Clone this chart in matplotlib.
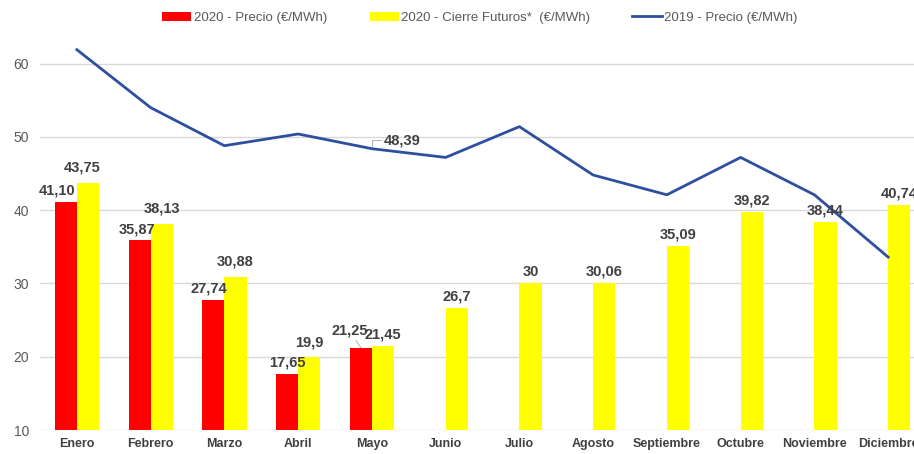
import matplotlib.pyplot as plt
import numpy as np

plt.rcParams['font.family'] = ['Liberation Sans Narrow', 'Liberation Sans', 'DejaVu Sans']

meses = ['Enero', 'Febrero', 'Marzo', 'Abril', 'Mayo', 'Junio', 'Julio',
         'Agosto', 'Septiembre', 'Octubre', 'Noviembre', 'Diciembre']
precio_2020 = [41.10, 35.87, 27.74, 17.65, 21.25]
precio_2020_txt = ['41,10', '35,87', '27,74', '17,65', '21,25']
futuros_2020 = [43.75, 38.13, 30.88, 19.9, 21.45, 26.7, 30, 30.06, 35.09, 39.82, 38.44, 40.74]
futuros_2020_txt = ['43,75', '38,13', '30,88', '19,9', '21,45', '26,7', '30', '30,06',
                    '35,09', '39,82', '38,44', '40,74']
precio_2019 = [61.9, 54.0, 48.8, 50.4, 48.39, 47.2, 51.4, 44.8, 42.1, 47.2, 42.1, 33.6]

rojo = '#FF0000'
amarillo = '#FFFF00'
azul = '#2E4FA0'
gris_txt = '#404040'

fig = plt.figure(figsize=(9.14, 4.54), dpi=100)
ax = fig.add_axes([40/914, (454-430)/454, 885/914, (430-27)/454])

x = np.arange(len(meses))
w = 0.3
b1 = ax.bar(x[:len(precio_2020)] - w/2, precio_2020, w, color=rojo,
            label='2020 - Precio (€/MWh)', zorder=2)
b2 = ax.bar(x + w/2, futuros_2020, w, color=amarillo,
            label='2020 - Cierre Futuros*  (€/MWh)', zorder=2)
l1, = ax.plot(x, precio_2019, color=azul, lw=2, label='2019 - Precio (€/MWh)', zorder=3)

ax.set_ylim(10, 65)
ax.set_xlim(-0.5, 11.5)
ax.set_yticks([10, 20, 30, 40, 50, 60])
ax.grid(axis='y', color='#d9d9d9', lw=1, zorder=0)
for s in ax.spines.values():
    s.set_visible(False)
ax.tick_params(axis='both', length=0)
ax.tick_params(axis='y', labelcolor='#595959', labelsize=10, pad=8)
ax.set_xticks(x)
ax.set_xticklabels(meses, fontsize=9, fontweight='bold', color=gris_txt)
ax.tick_params(axis='x', pad=6)

lab_kw = dict(fontsize=10.5, fontweight='bold', color=gris_txt, ha='center', va='bottom',
              textcoords='offset points')
red_off = [(-6, 3), (-2, 3), (-3, 3), (0, 3), (-8, 7)]
for i, (v, t) in enumerate(zip(precio_2020, precio_2020_txt)):
    if i == 4:
        ax.annotate(t, (i - w/2, v), xytext=red_off[i], arrowprops=dict(arrowstyle='-', color='#a0a0a0', lw=0.6,
                    shrinkA=0, shrinkB=0), **lab_kw)
    else:
        ax.annotate(t, (i - w/2, v), xytext=red_off[i], **lab_kw)
for i, (v, t) in enumerate(zip(futuros_2020, futuros_2020_txt)):
    dx = -4 if i == 0 else 0
    dy = 6 if i < 4 else 3
    ax.annotate(t, (i + w/2, v), xytext=(dx, dy), **lab_kw)

ax.annotate('48,39', (4, precio_2019[4]), xytext=(22, 1), fontsize=10.5, fontweight='bold',
            color=gris_txt, ha='center', va='bottom', textcoords='offset points',
            arrowprops=dict(arrowstyle='-', color='#a0a0a0', lw=0.6, shrinkA=0, shrinkB=2,
                            connectionstyle='angle,angleA=0,angleB=90,rad=0'))

ax.legend([b1, b2, l1], [b1.get_label(), b2.get_label(), l1.get_label()],
          loc='upper center', bbox_to_anchor=(480/914, 1.0), bbox_transform=fig.transFigure,
          ncol=3, frameon=False, fontsize=9.5, labelcolor='#595959', columnspacing=3.2,
          handlelength=2.2, handleheight=0.7, handletextpad=0.2)

fig.savefig('out.png', dpi=100)
